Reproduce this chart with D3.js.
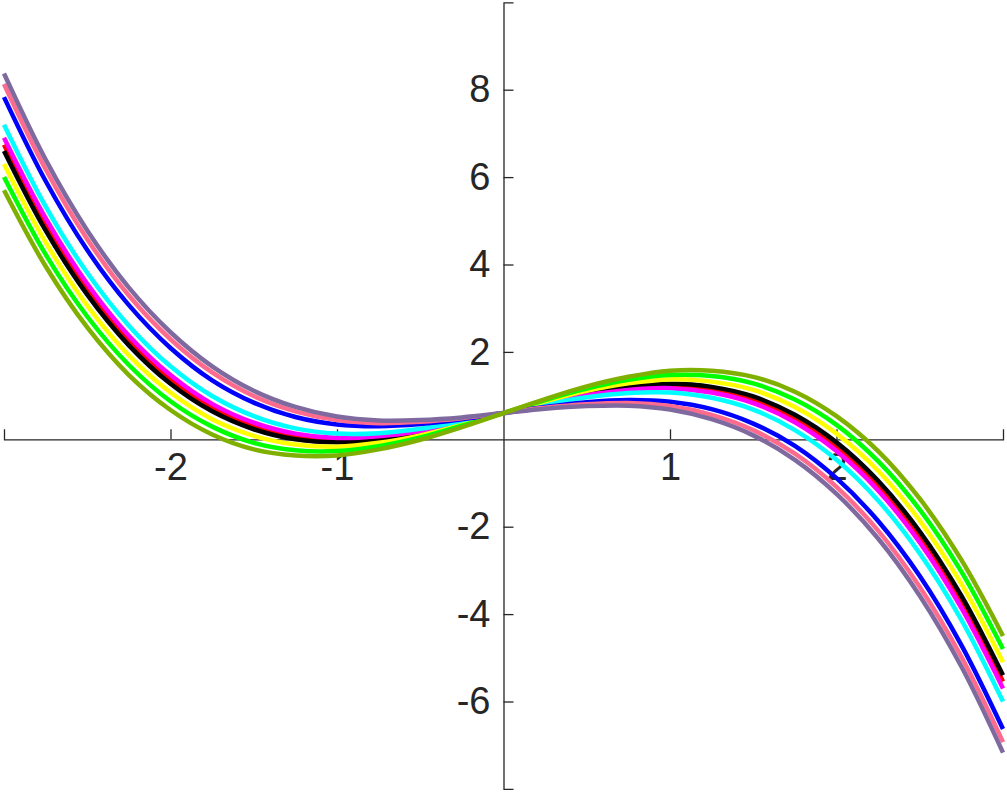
<!DOCTYPE html>
<html>
<head>
<meta charset="utf-8">
<script src="https://cdn.jsdelivr.net/npm/d3@7"></script>
<style>
  html, body { margin: 0; padding: 0; background: #fff; }
  svg { display: block; }
</style>
</head>
<body>
<svg id="chart" width="1007" height="792"></svg>
<script>
// ---- data ----
const xValues = [-3,-2.75,-2.5,-2.25,-2,-1.75,-1.5,-1.25,-1,-0.75,-0.5,-0.25,0,0.25,0.5,0.75,1,1.25,1.5,1.75,2,2.25,2.5,2.75,3];

const redY     = [6.74,4.91,3.42,2.25,1.36,0.72,0.29,0.06,-0.02,0.03,0.16,0.37,0.6,0.83,1.04,1.18,1.22,1.14,0.91,0.49,-0.16,-1.05,-2.22,-3.71,-5.54];
const blackY   = [6.6,4.78,3.31,2.15,1.27,0.64,0.23,0.0,-0.07,-0.01,0.14,0.36,0.6,0.85,1.06,1.21,1.27,1.2,0.98,0.56,-0.07,-0.95,-2.11,-3.58,-5.4];
const magentaY = [6.9,5.06,3.56,2.37,1.47,0.81,0.38,0.13,0.03,0.07,0.19,0.38,0.6,0.82,1.01,1.13,1.17,1.07,0.83,0.39,-0.27,-1.17,-2.36,-3.86,-5.7];
const cyanY    = [7.2,5.33,3.81,2.6,1.67,0.99,0.53,0.25,0.13,0.14,0.24,0.41,0.6,0.8,0.96,1.06,1.07,0.95,0.68,0.21,-0.47,-1.4,-2.61,-4.13,-6.0];
const yellowY  = [6.3,4.51,3.06,1.92,1.07,0.46,0.08,-0.12,-0.17,-0.08,0.09,0.33,0.6,0.87,1.11,1.28,1.37,1.32,1.13,0.74,0.13,-0.72,-1.86,-3.31,-5.1];
const greenY   = [6.0,4.23,2.81,1.7,0.87,0.29,-0.08,-0.25,-0.27,-0.16,0.04,0.31,0.6,0.9,1.16,1.36,1.47,1.45,1.28,0.91,0.33,-0.5,-1.61,-3.03,-4.8];
const blueY    = [7.83,5.91,4.33,3.07,2.09,1.35,0.84,0.51,0.34,0.3,0.35,0.46,0.6,0.74,0.85,0.9,0.86,0.69,0.36,-0.15,-0.89,-1.87,-3.13,-4.71,-6.63];
const pinkY    = [8.13,6.18,4.58,3.29,2.29,1.53,0.99,0.64,0.44,0.37,0.4,0.48,0.6,0.72,0.8,0.83,0.76,0.56,0.21,-0.33,-1.09,-2.09,-3.38,-4.98,-6.93];
const purpleY  = [8.37,6.4,4.78,3.47,2.45,1.67,1.11,0.74,0.52,0.43,0.44,0.5,0.6,0.7,0.76,0.77,0.68,0.46,0.09,-0.47,-1.25,-2.27,-3.58,-5.2,-7.17];
const oliveY   = [5.7,3.96,2.56,1.47,0.67,0.11,-0.23,-0.37,-0.37,-0.23,-0.01,0.28,0.6,0.92,1.21,1.43,1.57,1.57,1.43,1.09,0.53,-0.27,-1.36,-2.76,-4.5];

const seriesValues = [redY, blackY, magentaY, cyanY, yellowY, greenY, blueY, pinkY, purpleY, oliveY];
const seriesColors = ["#ff0000", "#000000", "#ff00ff", "#00ffff", "#ffff00", "#00ff00", "#0000ff", "#ff6b8e", "#7f6a9f", "#7fb000"];

const xTickValues = [-2, -1, 1, 2];
const yTickValues = [-6, -4, -2, 2, 4, 6, 8];
const xDomain = [-3, 3];
const yDomain = [-8, 10];

// ---- drawing ----
const svg = d3.select("#chart");
const x = d3.scaleLinear().domain(xDomain).range([4, 1003]);
const y = d3.scaleLinear().domain(yDomain).range([788.9, 2.3]);

const axisColor = "#262626";
const fontFamily = "'Liberation Sans', Arial, Helvetica, sans-serif";

const xAxis = d3.axisBottom(x)
  .tickValues(xTickValues)
  .tickFormat(d => String(d))
  .tickSizeInner(-10)
  .tickSizeOuter(-10)
  .tickPadding(14);

const yAxis = d3.axisLeft(y)
  .tickValues(yTickValues)
  .tickFormat(d => String(d))
  .tickSizeInner(-10)
  .tickSizeOuter(-10)
  .tickPadding(13);

function styleAxis(g) {
  g.attr("font-family", fontFamily).attr("font-size", 38);
  g.select(".domain").attr("stroke", axisColor).attr("stroke-width", 1.3);
  g.selectAll(".tick line").attr("stroke", axisColor).attr("stroke-width", 1.3);
  g.selectAll(".tick text").attr("fill", axisColor);
}

svg.append("g")
  .attr("transform", `translate(0,${y(0)})`)
  .call(xAxis)
  .call(styleAxis);

svg.append("g")
  .attr("transform", `translate(${x(0)},0)`)
  .call(yAxis)
  .call(styleAxis);

const line = d3.line()
  .x((d, i) => x(xValues[i]))
  .y(d => y(d))
  .curve(d3.curveCatmullRom.alpha(0.5));

svg.append("g")
  .selectAll("path")
  .data(seriesValues)
  .join("path")
  .attr("d", d => line(d))
  .attr("fill", "none")
  .attr("stroke", (d, i) => seriesColors[i])
  .attr("stroke-width", 4.5)
  .attr("stroke-linejoin", "round");
</script>
</body>
</html>
